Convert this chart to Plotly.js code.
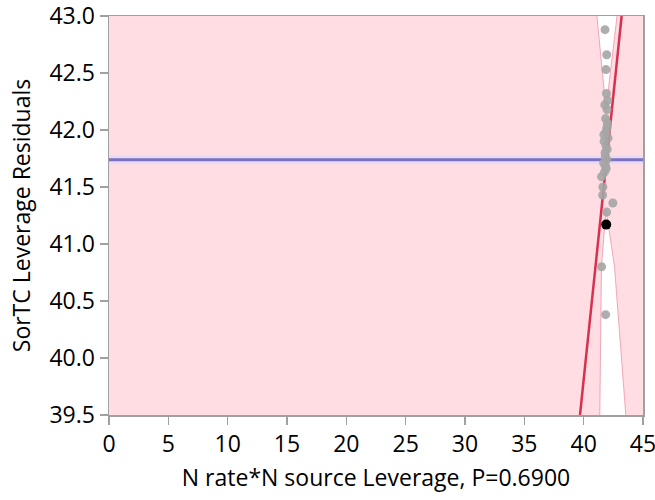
<!DOCTYPE html>
<html>
<head>
<meta charset="utf-8">
<script src="https://cdn.plot.ly/plotly-3.0.1.min.js"></script>
<style>html,body{margin:0;padding:0;background:#fff;}#chart{width:655px;height:500px;}</style>
</head>
<body>
<div id="chart"></div>
<script>
// Residual points (x = leverage, y = residual)
var pointX = [41.80, 41.94, 41.88, 42.02, 41.97, 41.85, 41.95, 41.70, 42.05, 41.88, 41.80, 41.95, 41.85, 41.75, 41.51, 41.60, 42.46, 41.94, 41.51, 41.85,
              41.92, 41.78, 42.00, 41.90, 41.72, 41.98, 41.83, 41.68, 41.90, 41.62];
var pointY = [42.88, 42.66, 42.53, 42.26, 42.18, 42.10, 42.02, 41.96, 41.93, 41.86, 41.80, 41.74, 41.68, 41.63, 41.59, 41.43, 41.36, 41.28, 40.80, 40.38,
              42.32, 42.22, 42.06, 41.99, 41.90, 41.83, 41.77, 41.71, 41.66, 41.50];
var highlightX = [41.90];
var highlightY = [41.17];

// Fit line and mean line
var fitX = [39.69, 43.20];
var fitY = [39.5, 43.0];
var meanX = [0, 45];
var meanY = [41.74, 41.74];

// Regions outside the confidence curves (white wedges)
var topWedgeX = [41.12, 41.88, 42.81];
var topWedgeY = [43.0, 42.18, 43.0];
var botWedgeX = [41.36, 41.50, 41.88, 42.60, 43.55];
var botWedgeY = [39.5, 40.80, 41.30, 40.80, 39.5];

var xTicks = [0, 5, 10, 15, 20, 25, 30, 35, 40, 45];
var yTicks = [39.5, 40.0, 40.5, 41.0, 41.5, 42.0, 42.5, 43.0];
var yTickText = ['39.5', '40.0', '40.5', '41.0', '41.5', '42.0', '42.5', '43.0'];

var curveLine = {color: 'rgba(225,110,135,0.55)', width: 1};
var traces = [
  {x: topWedgeX, y: topWedgeY, mode: 'lines', fill: 'toself', fillcolor: '#ffffff', line: curveLine, hoverinfo: 'skip'},
  {x: botWedgeX, y: botWedgeY, mode: 'lines', fill: 'toself', fillcolor: '#ffffff', line: curveLine, hoverinfo: 'skip'},
  {x: meanX, y: meanY, mode: 'lines', line: {color: 'rgba(228,220,250,0.9)', width: 9}, hoverinfo: 'skip'},
  {x: meanX, y: meanY, mode: 'lines', line: {color: '#7f6fc0', width: 3}},
  {x: fitX, y: fitY, mode: 'lines', line: {color: '#d8304f', width: 2.5}},
  {x: pointX, y: pointY, mode: 'markers', marker: {color: 'rgba(165,165,165,0.9)', size: 9}},
  {x: highlightX, y: highlightY, mode: 'markers', marker: {color: '#000000', size: 10}}
];

var axisFont = {family: 'Open Sans, Noto Sans, sans-serif', size: 23, color: '#000'};
var titleFont = {family: 'Open Sans, Noto Sans, sans-serif', size: 23, color: '#000'};
var layout = {
  width: 655, height: 500,
  margin: {l: 109, r: 12, t: 16, b: 85},
  paper_bgcolor: '#ffffff',
  plot_bgcolor: '#ffdde3',
  showlegend: false,
  xaxis: {
    range: [0, 45], tickvals: xTicks, ticktext: xTicks.map(String),
    ticks: 'outside', ticklen: 8, tickcolor: '#a0a0a0', tickwidth: 1.5,
    ticklabeloverflow: 'allow',
    showgrid: false, zeroline: false, showline: true, linecolor: '#a0a0a0', linewidth: 1.5, mirror: true,
    tickfont: axisFont,
    title: {text: 'N rate*N source Leverage, P=0.6900', font: titleFont, standoff: 12}
  },
  yaxis: {
    range: [39.5, 43.0], tickvals: yTicks, ticktext: yTickText,
    ticks: 'outside', ticklen: 8, tickcolor: '#a0a0a0', tickwidth: 1.5,
    ticklabeloverflow: 'allow',
    showgrid: false, zeroline: false, showline: true, linecolor: '#a0a0a0', linewidth: 1.5, mirror: true,
    tickfont: axisFont,
    title: {text: 'SorTC Leverage Residuals', font: titleFont, standoff: 12}
  }
};
Plotly.newPlot('chart', traces, layout, {displayModeBar: false, staticPlot: true});
</script>
</body>
</html>
